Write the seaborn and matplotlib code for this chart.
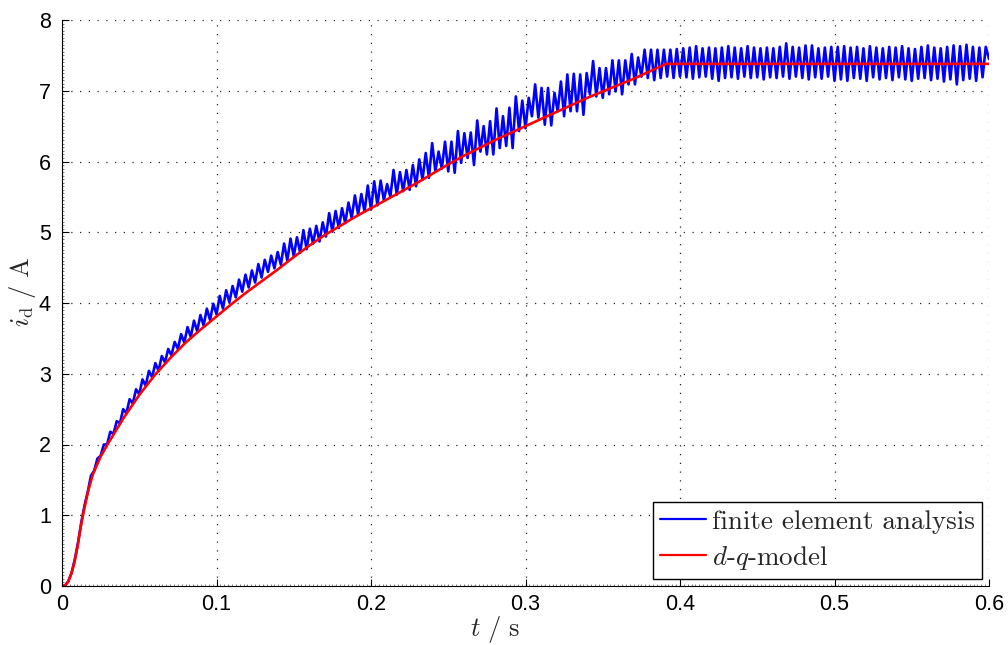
import numpy as np
import pandas as pd
import matplotlib
matplotlib.use("Agg")
import matplotlib.pyplot as plt
from matplotlib.ticker import MultipleLocator, FixedLocator
from matplotlib.font_manager import FontProperties
import seaborn as sns

# ---------------- data ----------------
# d-q model (smooth curve)
dq_t = [0.0, 0.002, 0.004, 0.006, 0.008, 0.010, 0.012, 0.014, 0.017, 0.020,
        0.025, 0.030, 0.040, 0.050, 0.060, 0.070, 0.080, 0.090, 0.100, 0.110,
        0.120, 0.130, 0.140, 0.150, 0.160, 0.170, 0.180, 0.190, 0.200, 0.210,
        0.220, 0.230, 0.240, 0.250, 0.260, 0.270, 0.280, 0.290, 0.300, 0.310,
        0.320, 0.330, 0.340, 0.350, 0.360, 0.370, 0.380, 0.391, 0.600]
dq_i = [0.00, 0.01, 0.06, 0.17, 0.33, 0.55, 0.82, 1.05, 1.35, 1.58,
        1.83, 2.02, 2.38, 2.70, 2.98, 3.22, 3.44, 3.63, 3.81, 3.99,
        4.16, 4.32, 4.48, 4.65, 4.81, 4.96, 5.09, 5.22, 5.34, 5.46,
        5.58, 5.70, 5.83, 5.96, 6.08, 6.19, 6.30, 6.40, 6.50, 6.60,
        6.70, 6.80, 6.90, 6.99, 7.08, 7.17, 7.27, 7.38, 7.38]

# finite element analysis: successive extrema (trough/peak) of the ripple,
# one value every half ripple period (ripple ~240 Hz)
fea_step = 1.0 / 480.0
fea_0_to_01 = [0.00, 0.01, 0.07, 0.19, 0.38, 0.62, 0.90, 1.14, 1.33, 1.56,
               1.63, 1.80, 1.84, 2.00, 2.00, 2.18, 2.15, 2.33, 2.30, 2.50,
               2.44, 2.64, 2.58, 2.78, 2.71, 2.92, 2.83, 3.04, 2.95, 3.15,
               3.04, 3.25, 3.16, 3.35, 3.26, 3.45, 3.35, 3.56, 3.44, 3.66,
               3.52, 3.75, 3.60, 3.83, 3.68, 3.92, 3.76, 3.99, 3.84]
fea_01_to_02 = [4.10, 3.92, 4.18, 4.01, 4.24, 4.08, 4.33, 4.16, 4.40, 4.22,
                4.46, 4.29, 4.55, 4.36, 4.61, 4.44, 4.67, 4.49, 4.72, 4.54,
                4.84, 4.60, 4.91, 4.66, 4.93, 4.71, 5.03, 4.76, 5.05, 4.84,
                5.09, 4.87, 5.14, 4.94, 5.27, 5.01, 5.30, 5.06, 5.34, 5.13,
                5.42, 5.20, 5.52, 5.25, 5.54, 5.29, 5.66, 5.32]
fea_02_to_03 = [5.72, 5.38, 5.73, 5.45, 5.68, 5.50, 5.88, 5.53, 5.85, 5.58,
                5.88, 5.60, 5.95, 5.65, 6.03, 5.74, 6.12, 5.77, 6.26, 5.86,
                6.14, 5.90, 6.28, 5.86, 6.28, 5.84, 6.43, 5.98, 6.40, 6.05,
                6.41, 5.95, 6.58, 6.14, 6.50, 6.10, 6.57, 6.10, 6.75, 6.19,
                6.64, 6.22, 6.76, 6.19, 6.92, 6.43, 6.86, 6.47]
fea_03_to_04 = [6.90, 6.64, 7.09, 6.62, 7.04, 6.52, 7.04, 6.51, 6.97, 6.71,
                7.13, 6.64, 7.23, 6.71, 7.24, 6.71, 7.23, 6.66, 7.25, 6.95,
                7.42, 6.92, 7.32, 6.90, 7.32, 6.95, 7.43, 6.99, 7.43, 6.95,
                7.43, 7.09, 7.52, 7.09, 7.47, 7.20, 7.58, 7.18, 7.58, 7.15,
                7.58, 7.18, 7.58, 7.20, 7.58, 7.18, 7.59, 7.20]
fea_04_to_05 = [7.60, 7.19, 7.61, 7.17, 7.63, 7.19, 7.60, 7.20, 7.61, 7.17,
                7.60, 7.14, 7.61, 7.18, 7.63, 7.19, 7.61, 7.17, 7.60, 7.20,
                7.63, 7.18, 7.61, 7.19, 7.60, 7.16, 7.61, 7.19, 7.60, 7.18,
                7.62, 7.20, 7.67, 7.17, 7.62, 7.20, 7.61, 7.18, 7.64, 7.16,
                7.64, 7.19, 7.60, 7.17, 7.61, 7.20, 7.62, 7.14]
fea_05_to_06 = [7.62, 7.16, 7.63, 7.14, 7.61, 7.18, 7.62, 7.17, 7.60, 7.14,
                7.63, 7.19, 7.61, 7.16, 7.60, 7.18, 7.62, 7.15, 7.61, 7.19,
                7.63, 7.16, 7.60, 7.14, 7.59, 7.17, 7.62, 7.18, 7.64, 7.15,
                7.61, 7.17, 7.60, 7.13, 7.62, 7.16, 7.64, 7.09, 7.63, 7.15,
                7.65, 7.17, 7.62, 7.14, 7.61, 7.19, 7.62, 7.45]

x_ticks = [0, 0.1, 0.2, 0.3, 0.4, 0.5, 0.6]
x_tick_labels = ["0", "0.1", "0.2", "0.3", "0.4", "0.5", "0.6"]
y_ticks = [0, 1, 2, 3, 4, 5, 6, 7, 8]
legend_labels = ["finite element analysis", r"$d$-$q$-model"]

fea_i = (fea_0_to_01 + fea_01_to_02 + fea_02_to_03 + fea_03_to_04
         + fea_04_to_05 + fea_05_to_06)
fea_t = [k * fea_step for k in range(len(fea_i))]

df_fea = pd.DataFrame({"t": fea_t, "i": fea_i})
df_dq = pd.DataFrame({"t": dq_t, "i": dq_i})

# ---------------- style ----------------
sns.set_theme(style="white")
plt.rcParams["font.family"] = ["Liberation Sans", "DejaVu Sans"]
plt.rcParams["mathtext.fontset"] = "cm"
plt.rcParams["axes.unicode_minus"] = False

fig = plt.figure(figsize=(10.08, 6.45), dpi=100)
ax = fig.add_axes([62 / 1008, 1 - 586 / 645, (989 - 62) / 1008, (586 - 20) / 645])

sns.lineplot(data=df_fea, x="t", y="i", ax=ax, color=(0, 0, 1), linewidth=1.9,
             sort=False, estimator=None, label=legend_labels[0])
sns.lineplot(data=df_dq, x="t", y="i", ax=ax, color=(1, 0, 0), linewidth=1.9,
             sort=False, estimator=None, label=legend_labels[1])
for ln in ax.get_lines():
    ln.set_solid_joinstyle("round")
    ln.set_solid_capstyle("round")

ax.set_xlim(0, 0.6)
ax.set_ylim(0, 8)
ax.xaxis.set_major_locator(FixedLocator(x_ticks))
ax.set_xticklabels(x_tick_labels)
ax.yaxis.set_major_locator(FixedLocator(y_ticks))
ax.xaxis.set_minor_locator(MultipleLocator(0.0025))
ax.yaxis.set_minor_locator(MultipleLocator(0.05))

ax.grid(True, which="major", color="0.15", linestyle=(0, (1, 6)), linewidth=0.9)
ax.set_axisbelow(True)

for side in ["top", "right"]:
    ax.spines[side].set_visible(False)
for side in ["left", "bottom"]:
    ax.spines[side].set_visible(True)
    ax.spines[side].set_color("black")
    ax.spines[side].set_linewidth(0.8)

ax.tick_params(axis="both", which="major", direction="in", length=5, width=0.8,
               colors="black", labelsize=15.5, left=True, bottom=True)
ax.tick_params(axis="y", which="major", pad=8)
ax.tick_params(axis="x", which="major", pad=6)
ax.tick_params(axis="both", which="minor", direction="in", length=1.6, width=0.5,
               colors="0.3", left=True, bottom=True)

ax.set_xlabel(r"$t\ /\ \mathrm{s}$", fontsize=19)
ax.set_ylabel(r"$i_{\mathrm{d}}\ /\ \mathrm{A}$", fontsize=19)
ax.xaxis.set_label_coords((495 - 62) / 927, -0.050)
ax.yaxis.set_label_coords(-0.026, (586 - 292) / 566)

leg = ax.legend(loc="lower right", prop=FontProperties(family="cmr10", size=19.5),
                frameon=True, fancybox=False, edgecolor="black", framealpha=1,
                handlelength=1.7, handletextpad=0.2, borderpad=0.28,
                labelspacing=0.37, borderaxespad=0.25)
leg.get_frame().set_linewidth(1.0)
for h in leg.get_lines():
    h.set_linewidth(1.6)

fig.savefig("out.png", dpi=100, facecolor="white")
